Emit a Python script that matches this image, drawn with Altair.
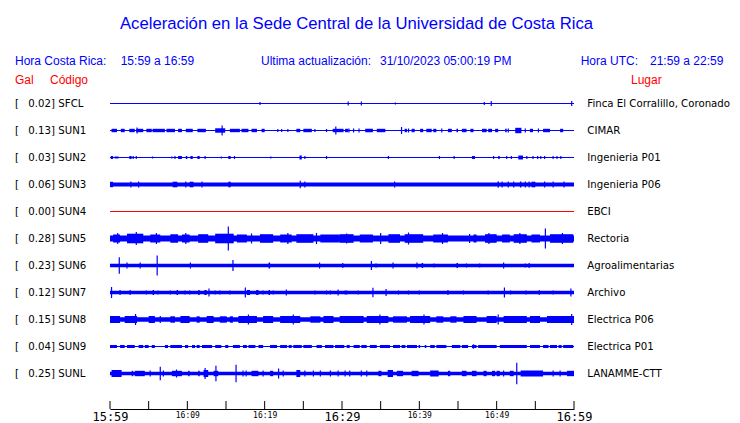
import json
import altair as alt
import pandas as pd

# ---------------- data ----------------
codes = ["SFCL", "SUN1", "SUN2", "SUN3", "SUN4", "SUN5", "SUN6", "SUN7", "SUN8", "SUN9", "SUNL"]
gal = [0.02, 0.13, 0.03, 0.06, 0.00, 0.28, 0.23, 0.12, 0.15, 0.04, 0.25]
places = ["Finca El Corralillo, Coronado", "CIMAR", "Ingenieria P01", "Ingenieria P06", "EBCI",
          "Rectoria", "Agroalimentarias", "Archivo", "Electrica P06", "Electrica P01", "LANAMME-CTT"]
trace_colors = ["#0000ff"] * 4 + ["#ff0000"] + ["#0000ff"] * 6
# background noise half-amplitude of each trace
base_amp = [0.5, 0.5, 0.5, 2.0, 0.5, 3.0, 1.7, 1.7, 2.3, 0.5, 1.7]

# minutes since 15:59 : (start, end, half-amplitude)
sfcl_bursts = []
sfcl_spikes = [(19.4, 1.5), (30.8, 2), (32.5, 2), (36.9, 1), (48.4, 1.5), (49.3, 2.5), (59.7, 2.5)]

sun1_bursts = [(0.2, 0.9, 1.7), (1.4, 1.9, 1.7), (2.5, 3.2, 1.7), (3.4, 4.3, 1.7), (4.7, 5.4, 1.7), (5.5, 7.1, 1.7),
               (7.3, 8.4, 1.7), (8.8, 9.3, 1.7), (9.8, 10.7, 1.7), (11.3, 12.4, 1.7), (13.6, 14.9, 2.2),
               (15.5, 16.8, 1.7), (17.0, 17.9, 1.7), (18.3, 19.0, 1.7), (19.6, 20.0, 1.7), (24.1, 24.6, 1.7),
               (25.0, 26.1, 1.7), (28.8, 30.2, 1.7), (30.4, 30.8, 1.7), (33.0, 34.0, 1.7), (34.5, 35.6, 1.7),
               (38.1, 38.4, 1.7), (39.0, 39.4, 1.7), (40.1, 40.5, 1.7), (40.9, 41.6, 1.7), (41.8, 42.2, 1.7),
               (43.7, 44.2, 1.7), (44.8, 45.0, 1.7), (45.5, 46.1, 1.7), (46.6, 47.0, 1.7), (48.1, 48.7, 1.7),
               (48.9, 49.4, 1.7), (49.8, 50.2, 1.7), (51.1, 51.3, 1.7), (52.4, 53.2, 2.7), (54.3, 54.7, 1.7),
               (56.0, 56.9, 1.7), (58.2, 58.6, 1.7)]
sun1_spikes = [(3.5, 3), (14.5, 5), (21.7, 1.5), (22.2, 1.5), (23.0, 1.5), (26.5, 1.5), (28.0, 1.5),
               (29.2, 4), (30.9, 2), (31.5, 2), (32.2, 2), (37.7, 3.5), (38.6, 2), (42.9, 2),
               (51.5, 2), (53.7, 2), (55.4, 2)]

sun2_bursts = [(0.1, 0.4, 1.5), (0.6, 1.1, 1), (2.5, 2.8, 1.5), (8.8, 9.3, 1.5), (9.8, 10.0, 1.5),
               (10.4, 10.7, 1.5), (11.3, 11.6, 1.5), (15.3, 15.6, 1.5), (24.5, 24.8, 2),
               (46.8, 47.2, 1.5), (50.2, 50.4, 1.5), (52.8, 53.4, 2)]
sun2_spikes = [(3.0, 1.5), (3.4, 1.5), (5.5, 1), (8.0, 1), (8.4, 1.5), (12.3, 1.5), (14.4, 1),
               (16.1, 1.5), (20.8, 1), (25.2, 1.5), (28.0, 1.5), (36.0, 1.5), (42.6, 1.5), (44.5, 1.5),
               (49.6, 1.5), (51.3, 1.5), (51.9, 1.5), (53.9, 1.5), (54.7, 1.5), (55.3, 1.5),
               (55.7, 1.5), (56.2, 1.5), (57.3, 1.5), (57.8, 1.5), (58.3, 1.5)]

sun3_bursts = [(0.0, 0.4, 2.7), (8.1, 8.7, 2.8), (10.3, 10.8, 2.8), (15.3, 15.6, 2.8), (53.0, 53.2, 3),
               (54.5, 55.0, 2.8)]
sun3_spikes = [(2.7, 3), (3.7, 3), (9.8, 3), (11.9, 3), (24.6, 3.8), (25.2, 3), (36.8, 3), (50.2, 3.3),
               (50.7, 3), (51.5, 3), (52.2, 3), (53.7, 3), (54.2, 3), (56.2, 3), (57.3, 3), (58.7, 3)]

sun4_bursts = []
sun4_spikes = []

sun5_bursts = [(0.4, 1.3, 4), (2.2, 4.3, 4.8), (5.2, 6.5, 4), (7.8, 8.8, 4.3), (9.3, 10.3, 4),
               (11.4, 12.7, 4.3), (13.6, 16.0, 4.8), (16.4, 17.7, 4), (19.4, 21.1, 4.3), (22.0, 23.5, 4),
               (24.1, 26.3, 4.3), (27.2, 29.7, 4), (29.7, 31.5, 4.3), (32.3, 34.0, 4), (36.0, 37.5, 4.3),
               (38.1, 40.5, 4.3), (41.8, 43.7, 4), (47.0, 47.4, 4), (48.5, 50.0, 4.3), (50.7, 51.7, 4),
               (52.2, 53.9, 4.3), (54.5, 55.6, 4), (56.9, 59.9, 4.3)]
sun5_spikes = [(1.0, 5.5), (3.4, 6.5), (6.0, 5.5), (9.8, 5.5), (15.3, 12), (18.3, 5), (23.0, 5.5),
               (26.7, 5.5), (30.6, 5), (35.0, 5.5), (38.6, 6), (43.0, 5.5), (46.5, 4.5), (49.0, 5.5),
               (53.0, 5.5), (56.3, 10), (58.5, 5.5)]

sun6_bursts = [(20.5, 20.7, 3), (40.3, 40.5, 2.5), (44.8, 45.0, 2.5)]
sun6_spikes = [(1.2, 8.3), (2.2, 3), (3.9, 3), (6.1, 10), (7.0, 1.5), (10.4, 3), (12.5, 1.5), (14.7, 1.5),
               (15.9, 5.5), (19.0, 1.5), (21.6, 1.5), (22.2, 1.5), (27.1, 3), (27.7, 1.5), (29.7, 1.5),
               (30.1, 2.5), (33.8, 4.5), (34.4, 2), (36.6, 3), (39.7, 3), (41.9, 2), (46.1, 2),
               (47.8, 2), (50.9, 3), (53.7, 2), (54.2, 2.5)]

sun7_bursts = [(5.5, 5.7, 2.5), (8.6, 8.8, 2.5), (11.4, 11.6, 2.5), (12.2, 12.5, 2.5), (17.7, 18.1, 2.5),
               (18.9, 19.2, 2.5), (20.5, 20.7, 2.5)]
sun7_spikes = [(0.2, 5.5), (1.3, 2.5), (2.6, 2.5), (4.7, 2), (6.2, 2), (7.8, 2), (9.7, 2), (10.3, 2),
               (12.8, 4), (13.6, 2), (14.2, 2), (15.5, 2), (17.5, 5), (19.8, 2), (21.1, 2), (22.8, 3),
               (26.5, 2), (28.0, 2), (28.5, 2), (29.5, 3), (30.4, 2), (30.6, 2), (32.1, 2), (34.0, 4.7),
               (35.7, 3.5), (37.3, 2), (38.6, 2), (40.0, 2), (43.7, 2.5), (45.7, 2), (48.9, 2),
               (51.0, 5), (51.8, 2), (53.8, 2), (55.5, 2.5), (57.3, 2), (59.6, 4)]

sun8_bursts = [(0.0, 1.3, 3.5), (1.9, 3.5, 3.5), (5.0, 5.8, 3.5), (7.8, 8.4, 3.2), (9.1, 10.3, 3.5),
               (11.2, 11.6, 3.2), (12.5, 13.4, 3.5), (14.2, 15.1, 3.2), (15.5, 15.9, 3.2), (16.6, 19.0, 3.5),
               (19.8, 21.1, 3.5), (22.0, 24.6, 3.5), (25.9, 27.2, 3.2), (27.6, 28.9, 3.5), (29.7, 32.8, 3.5),
               (33.2, 36.0, 3.5), (36.6, 38.4, 3.2), (38.8, 41.4, 3.5), (42.2, 43.1, 3.2), (44.0, 44.8, 3.2),
               (45.7, 47.4, 3.5), (48.7, 50.0, 3.5), (50.9, 53.9, 3.5), (54.3, 55.6, 3.5), (56.5, 60.0, 3.5)]
sun8_spikes = [(3.3, 5.5), (6.5, 3.5), (17.9, 5), (23.7, 5), (34.9, 5), (40.6, 5), (50.2, 5), (59.7, 5.5)]

sun9_bursts = [(0.0, 0.9, 1.5), (1.3, 1.9, 1.5), (2.2, 3.2, 1.5), (3.7, 4.3, 1.5), (4.5, 5.0, 1.5),
               (5.4, 5.8, 1.5), (7.1, 7.5, 1.5), (7.8, 9.3, 1.5), (9.7, 10.1, 1.5), (10.6, 11.0, 1.5),
               (11.2, 11.6, 1.5), (11.9, 13.2, 1.5), (13.6, 14.4, 1.5), (14.9, 15.3, 1.5), (15.9, 16.8, 1.5),
               (17.2, 17.7, 1.5), (17.9, 18.8, 1.5), (19.2, 19.8, 1.5), (20.7, 21.6, 1.5), (22.0, 22.9, 1.5),
               (23.1, 23.5, 1.5), (23.7, 24.8, 1.5), (25.0, 26.1, 1.5), (26.7, 27.4, 1.5), (27.8, 28.9, 1.5),
               (29.1, 30.3, 1.5), (30.6, 31.0, 1.5), (31.5, 32.3, 1.5), (32.5, 33.2, 1.5), (33.6, 34.5, 1.5),
               (34.9, 36.2, 1.5), (36.6, 37.5, 1.5), (37.7, 38.2, 1.5), (38.4, 39.7, 1.5), (39.9, 40.1, 1.5),
               (40.7, 40.9, 1.5), (41.4, 42.0, 1.5), (42.2, 43.5, 1.5), (44.2, 45.3, 1.5), (45.5, 46.3, 1.5),
               (46.8, 47.4, 1.5), (47.6, 50.0, 1.5), (50.4, 53.9, 1.5), (54.3, 55.6, 1.5), (56.0, 56.7, 1.5),
               (56.9, 57.8, 1.5), (58.0, 58.4, 1.5), (58.6, 59.9, 1.5)]
sun9_spikes = [(47.0, 2.2)]

sunl_bursts = [(0.2, 1.5, 3.5), (2.8, 3.0, 2.7), (3.2, 4.5, 2.7), (8.0, 9.3, 2.7), (10.1, 10.3, 2.7),
               (11.4, 11.6, 2.7), (12.1, 12.7, 3.5), (13.4, 14.0, 2.7), (18.3, 19.2, 2.7), (20.7, 21.1, 2.7),
               (24.1, 24.6, 3.5), (34.7, 35.1, 2.7), (35.9, 36.6, 3.5), (37.1, 37.9, 2.7), (39.0, 39.9, 2.7),
               (41.4, 42.5, 3), (43.7, 44.0, 2.7), (45.5, 46.1, 2.7), (46.8, 47.4, 2.7), (48.3, 48.7, 2.7),
               (49.4, 49.8, 2.7), (50.0, 50.4, 2.7), (51.7, 52.2, 2.7), (53.1, 56.0, 3), (59.1, 60.0, 2.7)]
sunl_spikes = [(5.2, 3), (6.5, 6.7), (6.9, 3), (8.6, 4), (12.3, 5.5), (13.7, 7.8), (16.3, 8.8), (17.2, 3),
               (17.6, 3), (19.8, 3), (21.8, 5), (22.4, 3), (25.2, 3), (26.3, 3), (27.2, 3), (28.5, 3),
               (29.5, 3), (30.4, 3), (31.0, 3), (32.5, 3), (33.2, 3), (50.9, 3), (52.6, 10.8),
               (57.3, 3), (58.2, 3)]

all_bursts = [sfcl_bursts, sun1_bursts, sun2_bursts, sun3_bursts, sun4_bursts, sun5_bursts,
              sun6_bursts, sun7_bursts, sun8_bursts, sun9_bursts, sunl_bursts]
all_spikes = [sfcl_spikes, sun1_spikes, sun2_spikes, sun3_spikes, sun4_spikes, sun5_spikes,
              sun6_spikes, sun7_spikes, sun8_spikes, sun9_spikes, sunl_spikes]

window = [0, 60]                       # minutes from 15:59 to 16:59
tick_minutes = list(range(0, 61, 5))
label_minutes = [0, 10, 20, 30, 40, 50, 60]
tick_labels = ["15:59", "16:09", "16:19", "16:29", "16:39", "16:49", "16:59"]

title_text = "Aceleración en la Sede Central de la Universidad de Costa Rica"
hdr_cr = ["Hora Costa Rica:", "15:59 a 16:59"]
hdr_upd = ["Ultima actualización:", "31/10/2023 05:00:19 PM"]
hdr_utc = ["Hora UTC:", "21:59 a 22:59"]
hdr_cols = ["Gal", "Código", "Lugar"]

# ---------------- layout ----------------
ROW = 27            # vertical spacing of the traces, in amplitude units
PL, PT = 110, 90    # plot origin on the page
W, H = 464, 319
BLUE, RED = "#0000ff", "#ff0000"
SANS = "Liberation Sans"
LAB = "DejaVu Sans"
LAB_SIZE = 10.2

base_rows, burst_rows, spike_rows, label_rows = [], [], [], []
for i in range(len(codes)):
    c = i * ROW
    base_rows.append(dict(t=window[0], t2=window[1], lo=c - base_amp[i], hi=c + base_amp[i], color=trace_colors[i]))
    for (a, b, amp) in all_bursts[i]:
        burst_rows.append(dict(t=a, t2=b, lo=c - amp, hi=c + amp, color=trace_colors[i]))
    for (a, amp) in all_spikes[i]:
        spike_rows.append(dict(t=a, lo=c - amp, hi=c + amp, color=trace_colors[i]))
    label_rows.append(dict(y=c, gal=f"{gal[i]:.2f}]", code=codes[i], place=places[i]))

base_df = pd.DataFrame(base_rows)
burst_df = pd.DataFrame(burst_rows)
spike_df = pd.DataFrame(spike_rows)
label_df = pd.DataFrame(label_rows)
tick_df = pd.DataFrame({"t": tick_minutes})

xscale = alt.Scale(domain=window, nice=False, zero=False)
yscale = alt.Scale(domain=[-13.5, H - 13.5], reverse=True, nice=False, zero=False)
xaxis = alt.Axis(values=label_minutes, title=None, grid=False, ticks=False, domain=True,
                 domainColor="black", domainWidth=1, labelFont="DejaVu Sans Mono",
                 labelFontSize={"condition": {"test": "datum.value % 30 === 0", "value": 12}, "value": 8},
                 labelColor="black", labelPadding=2, labelFlush=False, labelOverlap=False,
                 labelBound=False,
                 labelExpr=json.dumps(tick_labels) + "[round(datum.value / 10)]")
X = lambda f="t": alt.X(f"{f}:Q", scale=xscale, axis=xaxis)
Y = lambda f: alt.Y(f"{f}:Q", scale=yscale, axis=None)

base = alt.Chart(base_df).mark_rect().encode(
    x=X(), x2="t2", y=Y("lo"), y2="hi", color=alt.Color("color:N", scale=None))
bursts = alt.Chart(burst_df).mark_rect().encode(
    x=X(), x2="t2", y=Y("lo"), y2="hi", color=alt.Color("color:N", scale=None))
spikes = alt.Chart(spike_df).mark_rule(strokeWidth=1.2).encode(
    x=X(), y=Y("lo"), y2="hi", color=alt.Color("color:N", scale=None))
ticks = alt.Chart(tick_df).mark_rule(color="black", strokeWidth=1).encode(
    x=X(), y=alt.value(H - 8), y2=alt.value(H))

def lab(field, px, align):
    return alt.Chart(label_df).mark_text(align=align, baseline="middle", font=LAB, fontSize=LAB_SIZE,
                                         color="black").encode(
        x=alt.value(px - PL), y=Y("y"), text=f"{field}:N")

bracket = alt.Chart(label_df).mark_text(align="left", baseline="middle", font=LAB, fontSize=LAB_SIZE,
                                        color="black", text="[").encode(x=alt.value(15 - PL), y=Y("y"))
gal_t = lab("gal", 55, "right")
code_t = lab("code", 58.3, "left")
place_t = lab("place", 587.3, "left")

def txt(s, px, py, color, size, align="left"):
    return alt.Chart(pd.DataFrame({"s": [s]})).mark_text(
        align=align, baseline="alphabetic", font=SANS, fontSize=size, color=color).encode(
        x=alt.value(px - PL), y=alt.value(py - PT), text="s:N")

texts = [
    txt(title_text, 356.5, 29.3, BLUE, 16.7, "center"),
    txt(hdr_cr[0], 15, 65, BLUE, 12), txt(hdr_cr[1], 120.7, 65, BLUE, 12),
    txt(hdr_upd[0], 261, 65, BLUE, 12), txt(hdr_upd[1], 380, 65, BLUE, 12),
    txt(hdr_utc[0], 580.7, 65, BLUE, 12), txt(hdr_utc[1], 650, 65, BLUE, 12),
    txt(hdr_cols[0], 15, 84.3, RED, 12), txt(hdr_cols[1], 50, 84.3, RED, 12),
    txt(hdr_cols[2], 631, 84.3, RED, 12),
]

chart = alt.layer(base, bursts, spikes, ticks, bracket, gal_t, code_t, place_t, *texts).properties(
    width=W, height=H,
    autosize=alt.AutoSizeParams(type="none"),
    padding={"left": PL - 8, "top": PT - 8, "right": 740 - 16 - (PL - 8) - W, "bottom": 14},
).configure_view(strokeWidth=0)

chart.save("out.html", embed_options={"renderer": "svg", "actions": False})
